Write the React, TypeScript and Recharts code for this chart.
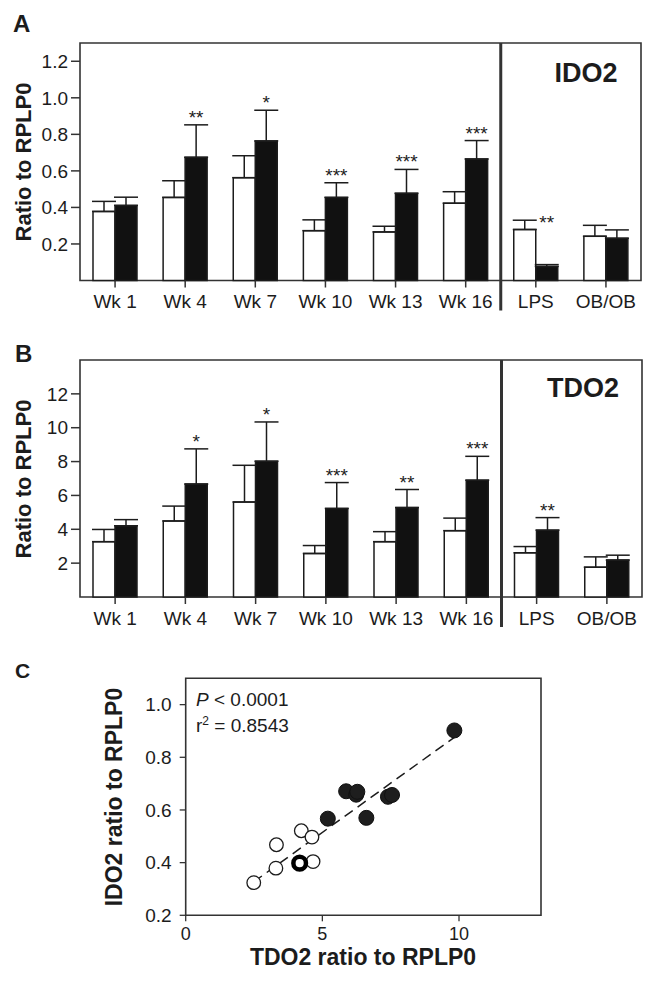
import React from 'react';
import {
  BarChart,
  Bar,
  XAxis,
  YAxis,
  ErrorBar,
  LabelList,
  ReferenceArea,
  ReferenceLine,
  ScatterChart,
  Scatter,
} from 'recharts';

const FONT = '"Liberation Sans", Arial, Helvetica, sans-serif';
const INK = '#1c1c1c';

// shared x categories for panels A and B
const groups = ['Wk 1', 'Wk 4', 'Wk 7', 'Wk 10', 'Wk 13', 'Wk 16', 'LPS', 'OB/OB'];

// Panel A - IDO2 (open = control, filled = treated)
const ido2Open = [0.378, 0.455, 0.563, 0.273, 0.266, 0.423, 0.279, 0.242];
const ido2OpenErr = [0.055, 0.091, 0.12, 0.059, 0.031, 0.063, 0.051, 0.06];
const ido2Filled = [0.411, 0.674, 0.764, 0.455, 0.477, 0.665, 0.077, 0.231];
const ido2FilledErr = [0.045, 0.178, 0.168, 0.08, 0.131, 0.101, 0.01, 0.046];
const ido2Stars = ['', '**', '*', '***', '***', '***', '**', ''];
const ido2Ticks = [0.2, 0.4, 0.6, 0.8, 1.0, 1.2];

// Panel B - TDO2
const tdo2Open = [3.27, 4.49, 5.61, 2.57, 3.27, 3.92, 2.61, 1.76];
const tdo2OpenErr = [0.72, 0.88, 2.17, 0.47, 0.59, 0.74, 0.37, 0.61];
const tdo2Filled = [4.21, 6.67, 8.02, 5.23, 5.28, 6.9, 3.95, 2.18];
const tdo2FilledErr = [0.36, 2.08, 2.32, 1.53, 1.07, 1.41, 0.74, 0.29];
const tdo2Stars = ['', '*', '*', '***', '**', '***', '**', ''];
const tdo2Ticks = [2, 4, 6, 8, 10, 12];

// Panel C - correlation
const openPoints = [
  { x: 2.49, y: 0.324 },
  { x: 3.32, y: 0.468 },
  { x: 3.3, y: 0.379 },
  { x: 4.23, y: 0.521 },
  { x: 4.62, y: 0.497 },
  { x: 4.66, y: 0.404 },
];
const ringPoints = [{ x: 4.17, y: 0.398 }];
const filledPoints = [
  { x: 9.83, y: 0.902 },
  { x: 5.87, y: 0.671 },
  { x: 6.24, y: 0.658 },
  { x: 6.28, y: 0.669 },
  { x: 7.4, y: 0.65 },
  { x: 7.55, y: 0.657 },
  { x: 5.2, y: 0.567 },
  { x: 6.61, y: 0.57 },
];
const fitLine = [
  { x: 2.49, y: 0.327 },
  { x: 9.83, y: 0.876 },
];
const corrXTicks = [0, 5, 10];
const corrYTicks = [0.2, 0.4, 0.6, 0.8, 1.0];

function buildRows(open: number[], openErr: number[], filled: number[], filledErr: number[], stars: string[]) {
  return groups.map((group, i) => ({
    group,
    open: open[i],
    openErr: [0, openErr[i]],
    filled: filled[i],
    filledErr: [0, filledErr[i]],
    stars: stars[i],
    starAt: Math.max(filled[i] + filledErr[i], open[i]),
  }));
}

const ido2Rows = buildRows(ido2Open, ido2OpenErr, ido2Filled, ido2FilledErr, ido2Stars);
const tdo2Rows = buildRows(tdo2Open, tdo2OpenErr, tdo2Filled, tdo2FilledErr, tdo2Stars);

const tickStyle = { fontSize: 19, fill: INK, fontFamily: FONT };

const starLabel = (rows: any[]) => (props: any) => {
  const { x, y, width, height, index } = props;
  const row = rows[index];
  if (!row || !row.stars) return null;
  const zero = Number(y) + Number(height);
  const perUnit = Number(height) / row.filled;
  return (
    <text
      x={Number(x) + Number(width) / 2}
      y={zero - row.starAt * perUnit - 1}
      textAnchor="middle"
      fontSize={19}
      fontFamily={FONT}
      fill={INK}
    >
      {row.stars}
    </text>
  );
};

const Divider = (p: any) => {
  const top = Math.min(p.y1, p.y2);
  const bottom = Math.max(p.y1, p.y2);
  return <line x1={p.x1} x2={p.x2} y1={top} y2={bottom + 30} stroke="#333" strokeWidth={3} />;
};

function PairedBars({ rows, domain, ticks, top, height, margin, fmt, tickMargin }: any) {
  return (
    <div style={{ position: 'absolute', left: 0, top }}>
      <BarChart width={656} height={height} data={rows} margin={margin} barSize={22} barGap={0}>
        <ReferenceArea y1={domain[0]} y2={domain[1]} fill="none" stroke="#333" strokeWidth={1.6} ifOverflow="visible" />
        <XAxis
          dataKey="group"
          interval={0}
          height={30}
          axisLine={false}
          tickSize={7}
          tickMargin={tickMargin}
          tickLine={{ stroke: '#333', strokeWidth: 1.5 }}
          tick={tickStyle}
        />
        <YAxis
          type="number"
          domain={domain}
          ticks={ticks}
          width={80}
          axisLine={false}
          tickSize={9}
          tickMargin={3}
          tickFormatter={fmt}
          tickLine={{ stroke: '#333', strokeWidth: 1.5 }}
          tick={tickStyle}
        />
        <ReferenceLine x="LPS" position="start" shape={Divider} ifOverflow="visible" />
        <Bar dataKey="open" fill="#fff" stroke={INK} strokeWidth={1.5} isAnimationActive={false}>
          <ErrorBar dataKey="openErr" direction="y" width={12} stroke={INK} strokeWidth={1.5} isAnimationActive={false} />
        </Bar>
        <Bar dataKey="filled" fill="#111" stroke={INK} strokeWidth={1.5} isAnimationActive={false}>
          <ErrorBar dataKey="filledErr" direction="y" width={12} stroke={INK} strokeWidth={1.5} isAnimationActive={false} />
          <LabelList dataKey="stars" content={starLabel(rows)} />
        </Bar>
      </BarChart>
    </div>
  );
}

const OpenDot = (p: any) => <circle cx={p.cx} cy={p.cy} r={6.8} fill="#fff" stroke={INK} strokeWidth={1.3} />;
const RingDot = (p: any) => <circle cx={p.cx} cy={p.cy} r={6.3} fill="#fff" stroke="#000" strokeWidth={4.5} />;
const FilledDot = (p: any) => <circle cx={p.cx} cy={p.cy} r={7.5} fill="#1e1e1e" stroke="#111" strokeWidth={1} />;

function Correlation() {
  return (
    <div style={{ position: 'absolute', left: 0, top: 650 }}>
      <ScatterChart width={656} height={337} margin={{ top: 28.3, right: 115, bottom: 31.7, left: 105.7 }}>
        <ReferenceArea x1={0} x2={13} y1={0.2} y2={1.1} fill="none" stroke="#333" strokeWidth={1.6} ifOverflow="visible" />
        <XAxis
          type="number"
          dataKey="x"
          domain={[0, 13]}
          ticks={corrXTicks}
          height={40}
          axisLine={false}
          tickSize={6}
          tickMargin={6}
          tickLine={{ stroke: '#333', strokeWidth: 1.3 }}
          tick={{ ...tickStyle, fontSize: 18 }}
        />
        <YAxis
          type="number"
          dataKey="y"
          domain={[0.2, 1.1]}
          ticks={corrYTicks}
          width={80}
          axisLine={false}
          tickSize={6}
          tickMargin={8}
          tickFormatter={(v: number) => v.toFixed(1)}
          tickLine={{ stroke: '#333', strokeWidth: 1.3 }}
          tick={{ ...tickStyle, fontSize: 19 }}
        />
        <Scatter data={openPoints} shape={OpenDot} isAnimationActive={false} />
        <Scatter data={ringPoints} shape={RingDot} isAnimationActive={false} />
        <Scatter data={filledPoints} shape={FilledDot} isAnimationActive={false} />
        <ReferenceLine segment={fitLine} stroke={INK} strokeWidth={1.5} strokeDasharray="10 6" ifOverflow="visible" />
      </ScatterChart>
    </div>
  );
}

function Annotations() {
  const bold = { fontFamily: FONT, fontWeight: 700, fill: INK } as const;
  return (
    <svg width={656} height={987} style={{ position: 'absolute', left: 0, top: 0, pointerEvents: 'none' }}>
      <text x={13} y={32} fontSize={24} {...bold}>A</text>
      <text x={15} y={362} fontSize={24} {...bold}>B</text>
      <text x={15} y={678} fontSize={21} {...bold}>C</text>
      <text x={586} y={82} fontSize={27} textAnchor="middle" {...bold}>IDO2</text>
      <text x={583} y={397} fontSize={27} textAnchor="middle" {...bold}>TDO2</text>
      <text x={23} y={162} fontSize={22} textAnchor="middle" dominantBaseline="central" transform="rotate(-90 23 162)" {...bold}>
        Ratio to RPLP0
      </text>
      <text x={23} y={479} fontSize={22} textAnchor="middle" dominantBaseline="central" transform="rotate(-90 23 479)" {...bold}>
        Ratio to RPLP0
      </text>
      <text x={114} y={797} fontSize={23} textAnchor="middle" dominantBaseline="central" transform="rotate(-90 114 797)" {...bold}>
        IDO2 ratio to RPLP0
      </text>
      <text x={363} y={965} fontSize={23} textAnchor="middle" {...bold}>TDO2 ratio to RPLP0</text>
      <text x={196} y={706} fontSize={19} fontFamily={FONT} fill={INK}>
        <tspan fontStyle="italic">P</tspan> {'< 0.0001'}
      </text>
      <text x={196} y={732} fontSize={19} fontFamily={FONT} fill={INK}>
        r<tspan fontSize={12} dy={-7}>2</tspan>
        <tspan dy={7}> = 0.8543</tspan>
      </text>
    </svg>
  );
}

export default function App() {
  return (
    <div style={{ position: 'relative', width: 656, height: 987, margin: -8, background: '#fff' }}>
      <PairedBars
        rows={ido2Rows}
        domain={[0, 1.3]}
        ticks={ido2Ticks}
        top={0}
        height={320}
        margin={{ top: 43, right: 15, bottom: 9.5, left: 0 }}
        fmt={(v: number) => v.toFixed(1)}
        tickMargin={7}
      />
      <PairedBars
        rows={tdo2Rows}
        domain={[0, 14]}
        ticks={tdo2Ticks}
        top={320}
        height={330}
        margin={{ top: 40, right: 14, bottom: 23, left: 0 }}
        fmt={(v: number) => String(v)}
        tickMargin={8}
      />
      <Correlation />
      <Annotations />
    </div>
  );
}
